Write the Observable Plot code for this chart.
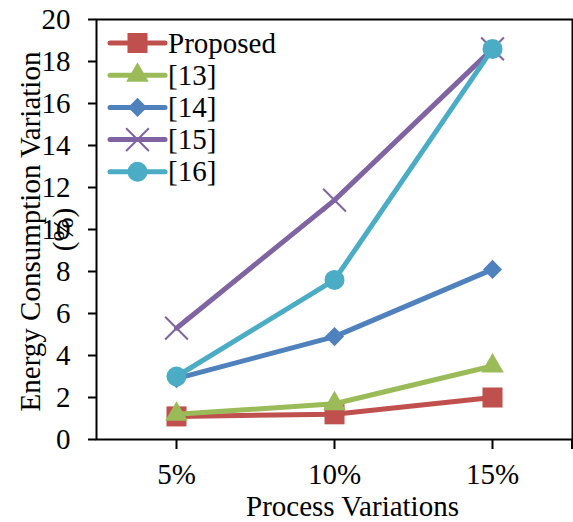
<!DOCTYPE html>
<html>
<head>
<meta charset="utf-8">
<script src="https://cdn.jsdelivr.net/npm/d3@7"></script>
<script src="https://cdn.jsdelivr.net/npm/@observablehq/plot@0.6"></script>
<style>
html, body { margin: 0; padding: 0; background: #fff; }
#chart { width: 573px; height: 522px; }
</style>
</head>
<body>
<div id="chart"></div>
<script>
const categories = ["5%", "10%", "15%"];
const seriesNames = ["Proposed", "[13]", "[14]", "[15]", "[16]"];
const proposed = [1.1, 1.2, 2.0];
const ref13 = [1.2, 1.7, 3.5];
const ref14 = [2.9, 4.9, 8.1];
const ref15 = [5.3, 11.4, 18.6];
const ref16 = [3.0, 7.6, 18.6];
const yTicks = [0, 2, 4, 6, 8, 10, 12, 14, 16, 18, 20];
const xLabel = "Process Variations";
const yLabelLines = ["Energy Consumption Variation", "(%)"];

const colors = ["#C0504D", "#9BBB59", "#4F81BD", "#8064A2", "#4BACC6"];
const symbols = [d3.symbolSquare, d3.symbolTriangle, d3.symbolDiamond2, d3.symbolTimes, d3.symbolCircle];
const radii = [11.3, 8.4, 8.6, 10.4, 10];
const filled = [true, true, true, false, true];
const values = [proposed, ref13, ref14, ref15, ref16];

const rows = [];
seriesNames.forEach((s, si) => categories.forEach((c, ci) => rows.push({series: s, si, x: c, y: values[si][ci]})));

const font = "Liberation Serif, Times New Roman, serif";
const FS = 29;
const marks = [];
seriesNames.forEach((s, si) => {
  const data = rows.filter(d => d.si === si);
  marks.push(Plot.line(data, {x: "x", y: "y", stroke: colors[si], strokeWidth: 5}));
  marks.push(Plot.dot(data, filled[si]
    ? {x: "x", y: "y", symbol: symbols[si], r: radii[si], fill: colors[si], stroke: "none"}
    : {x: "x", y: "y", symbol: symbols[si], r: radii[si], fill: "none", stroke: colors[si], strokeWidth: 2}));
});

const plot = Plot.plot({
  width: 573,
  height: 522,
  marginLeft: 96,
  marginRight: 1,
  marginTop: 19,
  marginBottom: 83,
  style: {fontFamily: font, fontSize: FS + "px", color: "#000", background: "#fff"},
  x: {type: "point", domain: categories, padding: 0.5},
  y: {domain: [0, 20]},
  marks: [
    Plot.axisY({ticks: yTicks, tickSize: 8, tickPadding: 18, label: null, fontSize: FS, strokeWidth: 2}),
    Plot.axisX({tickSize: 10, tickPadding: 14, label: null, fontSize: FS, strokeWidth: 2}),
    Plot.frame({stroke: "#000", strokeWidth: 2}),
    ...marks,
    Plot.text([xLabel], {frameAnchor: "bottom", dx: 18, dy: 67, text: d => d, fontSize: FS, lineAnchor: "middle", textAnchor: "middle"}),
    Plot.text([yLabelLines[0]], {frameAnchor: "left", rotate: -90, dx: -66, dy: 2, text: d => d, fontSize: FS, lineAnchor: "middle", textAnchor: "middle"}),
    Plot.text([yLabelLines[1]], {frameAnchor: "left", rotate: -90, dx: -33, dy: 0, text: d => d, fontSize: FS, lineAnchor: "middle", textAnchor: "middle"}),
    (index, scales, vals, dims) => {
      const g = d3.create("svg:g");
      const xr = dims.width - dims.marginRight;
      const yb = dims.height - dims.marginBottom;
      g.append("line").attr("x1", xr).attr("x2", xr).attr("y1", yb).attr("y2", yb + 10).attr("stroke", "#000").attr("stroke-width", 2);
      const lx = dims.marginLeft + 14, ly = dims.marginTop + 24, step = 32.2;
      seriesNames.forEach((s, i) => {
        const row = g.append("g").attr("transform", `translate(${lx},${ly + i * step})`);
        row.append("line").attr("x1", 0).attr("x2", 55).attr("y1", 0).attr("y2", 0).attr("stroke", colors[i]).attr("stroke-width", 5).attr("stroke-linecap", "round");
        const p = row.append("path").attr("transform", "translate(27.5,0)").attr("d", d3.symbol(symbols[i], Math.PI * radii[i] * radii[i])());
        if (filled[i]) p.attr("fill", colors[i]); else p.attr("fill", "none").attr("stroke", colors[i]).attr("stroke-width", 2);
        row.append("text").attr("x", 58).attr("y", 0).attr("dy", "0.33em").attr("text-anchor", "start").attr("font-size", FS).attr("fill", "#000").text(s);
      });
      return g.node();
    }
  ]
});
document.getElementById("chart").appendChild(plot);
</script>
</body>
</html>
